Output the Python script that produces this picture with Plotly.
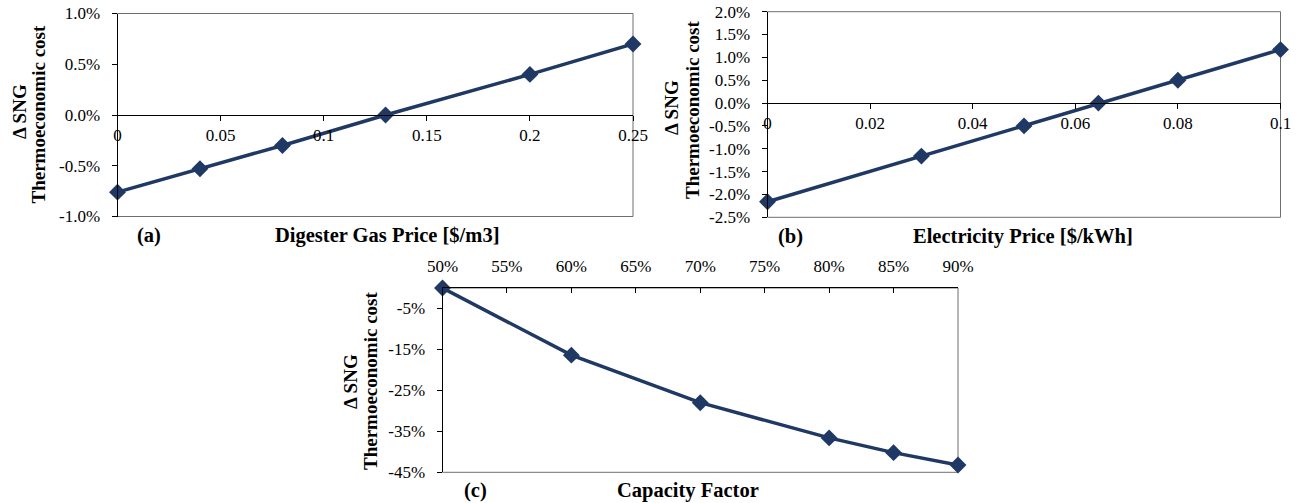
import plotly.graph_objects as go

# ---------------- data ----------------
gas_price = [0, 0.04, 0.08, 0.13, 0.2, 0.25]
gas_delta = [-0.0076, -0.0053, -0.0030, 0.0, 0.0040, 0.0070]

elec_price = [0, 0.03, 0.05, 0.0645, 0.08, 0.1]
elec_delta = [-0.0216, -0.0116, -0.0050, 0.0, 0.0050, 0.0117]

cap_factor = [0.50, 0.60, 0.70, 0.80, 0.85, 0.90]
cap_delta = [0.0, -0.164, -0.280, -0.366, -0.402, -0.432]

a_xticks = [0, 0.05, 0.1, 0.15, 0.2, 0.25]
a_xtext = ["0", "0.05", "0.1", "0.15", "0.2", "0.25"]
a_yticks = [-0.01, -0.005, 0.0, 0.005, 0.01]
a_ytext = ["-1.0%", "-0.5%", "0.0%", "0.5%", "1.0%"]

b_xticks = [0, 0.02, 0.04, 0.06, 0.08, 0.1]
b_xtext = ["0", "0.02", "0.04", "0.06", "0.08", "0.1"]
b_yticks = [-0.025, -0.02, -0.015, -0.01, -0.005, 0.0, 0.005, 0.01, 0.015, 0.02]
b_ytext = ["-2.5%", "-2.0%", "-1.5%", "-1.0%", "-0.5%", "0.0%", "0.5%", "1.0%", "1.5%", "2.0%"]

c_xticks = [0.50, 0.55, 0.60, 0.65, 0.70, 0.75, 0.80, 0.85, 0.90]
c_xtext = ["50%", "55%", "60%", "65%", "70%", "75%", "80%", "85%", "90%"]
c_yticks = [-0.45, -0.35, -0.25, -0.15, -0.05]
c_ytext = ["-45%", "-35%", "-25%", "-15%", "-5%"]

# ---------------- layout helpers ----------------
W, H = 1303, 503
def px(x):
    return x / W
def py(y):
    return 1 - y / H

FONT = "Liberation Serif, Times New Roman, serif"
NAVY = "#1f3864"
TICKFONT = dict(family=FONT, size=17, color="black")

dom_a = dict(x=[px(117.5), px(633)], y=[py(216.5), py(13.5)])
dom_b = dict(x=[px(767.5), px(1280.5)], y=[py(217.3), py(11.7)])
dom_c = dict(x=[px(442.5), px(958)], y=[py(472.3), py(288)])

ra_a = [-0.01, 0.01]
ra_b = [-0.025, 0.02]
ra_c = [-0.45, 0.0]

def zero_pos(dom, rng):
    y0, y1 = dom["y"]
    return y0 + (0 - rng[0]) / (rng[1] - rng[0]) * (y1 - y0)

fig = go.Figure()

line_style = dict(color=NAVY, width=3.5)
marker_style = dict(symbol="diamond", size=13, color=NAVY)

fig.add_trace(go.Scatter(x=gas_price, y=gas_delta, mode="lines+markers",
                         line=line_style, marker=marker_style, xaxis="x", yaxis="y",
                         showlegend=False, cliponaxis=False))
fig.add_trace(go.Scatter(x=elec_price, y=elec_delta, mode="lines+markers",
                         line=line_style, marker=marker_style, xaxis="x2", yaxis="y2",
                         showlegend=False, cliponaxis=False))
fig.add_trace(go.Scatter(x=cap_factor, y=cap_delta, mode="lines+markers",
                         line=line_style, marker=marker_style, xaxis="x3", yaxis="y3",
                         showlegend=False, cliponaxis=False))

common_y = dict(showline=True, linecolor="black", linewidth=1, ticks="outside",
                ticklen=5, tickcolor="black", showgrid=False, zeroline=False,
                tickfont=TICKFONT, fixedrange=True, automargin=False,
                ticklabeloverflow="allow", ticklabelstandoff=8)
common_x = dict(showline=True, linecolor="black", linewidth=1, ticklen=5,
                tickcolor="black", showgrid=False, zeroline=False,
                tickfont=TICKFONT, fixedrange=True, automargin=False,
                ticklabeloverflow="allow")

fig.update_layout(
    width=W, height=H,
    margin=dict(l=0, r=0, t=0, b=0, pad=0, autoexpand=False),
    paper_bgcolor="white", plot_bgcolor="white",
    font=dict(family=FONT, color="black"),
    xaxis=dict(domain=dom_a["x"], range=[0, 0.25], anchor="free",
               position=zero_pos(dom_a, ra_a), ticks="outside",
               tickvals=a_xticks, ticktext=a_xtext, **common_x),
    yaxis=dict(domain=dom_a["y"], range=ra_a, anchor="x",
               tickvals=a_yticks, ticktext=a_ytext, **common_y),
    xaxis2=dict(domain=dom_b["x"], range=[0, 0.1], anchor="free",
                position=zero_pos(dom_b, ra_b), ticks="outside",
                tickvals=b_xticks, ticktext=b_xtext, **common_x),
    yaxis2=dict(domain=dom_b["y"], range=ra_b, anchor="x2",
                tickvals=b_yticks, ticktext=b_ytext, **common_y),
    xaxis3=dict(domain=dom_c["x"], range=[0.5, 0.9], anchor="y3", side="top",
                ticks="inside", tickvals=c_xticks, ticktext=c_xtext,
                ticklabelstandoff=8, **common_x),
    yaxis3=dict(domain=dom_c["y"], range=ra_c, anchor="x3",
                tickvals=c_yticks, ticktext=c_ytext, **common_y),
)

# plot-area frames
for xr, yr in [("x", "y"), ("x2", "y2"), ("x3", "y3")]:
    fig.add_shape(type="rect", xref=f"{xr} domain", yref=f"{yr} domain",
                  x0=0, x1=1, y0=0, y1=1, line=dict(color="#6e6e6e", width=1),
                  layer="below")

# annotations
def ann(text, x, y, angle=0, size=20.5, bold=True):
    fig.add_annotation(text=f"<b>{text}</b>" if bold else text,
                       x=px(x), y=py(y), xref="paper", yref="paper",
                       showarrow=False, textangle=angle,
                       font=dict(family=FONT, size=size, color="black"),
                       xanchor="center", yanchor="middle")

# (a)
ann("Δ SNG", 20, 112, angle=-90, size=19)
ann("Thermoeconomic cost", 38, 114.5, angle=-90, size=19)
ann("(a)", 149, 235)
ann("Digester Gas Price [$/m3]", 387, 235)
# (b)
ann("Δ SNG", 672, 108, angle=-90, size=19)
ann("Thermoeconomic cost", 692, 110, angle=-90, size=19)
ann("(b)", 790, 236)
ann("Electricity Price [$/kWh]", 1023, 236)
# (c)
ann("Δ SNG", 350, 382, angle=-90, size=19)
ann("Thermoeconomic cost", 370, 381, angle=-90, size=19)
ann("(c)", 475, 490)
ann("Capacity Factor", 688, 490)

# remove the default page margin so the figure fills the window exactly
fig.write_html("out.html",
               config={"displayModeBar": False, "staticPlot": True},
               post_script="document.body.style.margin='0';document.body.style.overflow='hidden';")
